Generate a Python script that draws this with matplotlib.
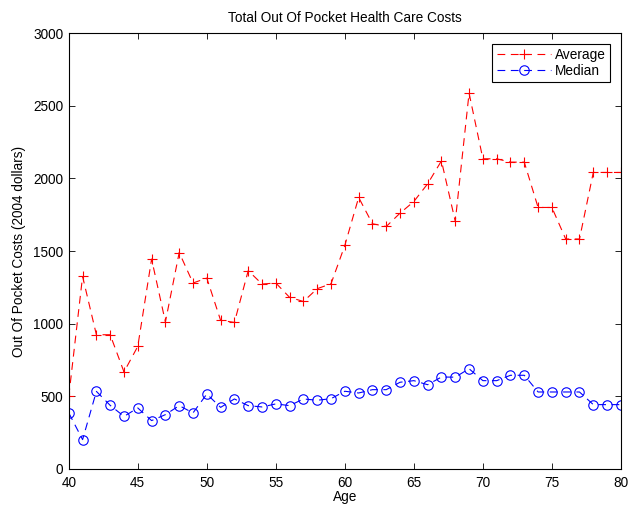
import matplotlib
matplotlib.use("Agg")
import matplotlib.pyplot as plt
import numpy as np

ages = list(range(40, 81))
average = [500, 1325, 924, 924, 668, 844, 1445, 1012, 1490, 1280,
           1314, 1023, 1009, 1365, 1273, 1280, 1181, 1153, 1241, 1275,
           1539, 1869, 1688, 1669, 1761, 1841, 1963, 2121, 1704, 2587,
           2135, 2135, 2112, 2112, 1800, 1800, 1583, 1583, 2041, 2041, 2041]
median = [386, 202, 534, 438, 362, 420, 333, 374, 436, 386,
          516, 424, 482, 436, 427, 448, 436, 482, 473, 484,
          535, 523, 546, 546, 597, 608, 580, 633, 632, 690,
          608, 608, 645, 645, 530, 530, 530, 530, 443, 443, 443]

plt.rcParams['font.family'] = ['Liberation Sans', 'DejaVu Sans']
FS = 9.8

fig = plt.figure(figsize=(6.31, 5.08), dpi=100)
ax = fig.add_axes([0.109, 0.0768, 0.875, 0.858])

ax.plot(ages, average, linestyle=(0, (7, 5)), color='red', linewidth=0.8,
        marker='+', markersize=7.5, markeredgewidth=0.8, label='Average')
ax.plot(ages, median, linestyle=(0, (7, 5)), color='blue', linewidth=0.8,
        marker='o', markersize=6.8, markerfacecolor='none', markeredgewidth=0.8,
        label='Median')

ax.set_xlim(40, 80)
ax.set_ylim(0, 3000)
ax.set_xticks(range(40, 81, 5))
ax.set_yticks(range(0, 3001, 500))
ax.tick_params(direction='in', top=True, right=True, labelsize=FS, length=4, width=0.6)
ax.tick_params(axis='x', pad=5)
ax.tick_params(axis='y', pad=4)
for s in ax.spines.values():
    s.set_linewidth(0.8)

ax.set_title('Total Out Of Pocket Health Care Costs', fontsize=FS, pad=8)
ax.set_xlabel('Age', fontsize=FS, labelpad=0)
ax.set_ylabel('Out Of Pocket Costs (2004 dollars)', fontsize=FS, labelpad=5)

leg = ax.legend(loc='upper right', fontsize=FS, fancybox=False, edgecolor='black',
                framealpha=1, handlelength=4, borderaxespad=0.8, borderpad=0.3,
                labelspacing=0.15, handletextpad=0.3)
leg.get_frame().set_linewidth(0.8)

fig.savefig('out.png', dpi=100)
